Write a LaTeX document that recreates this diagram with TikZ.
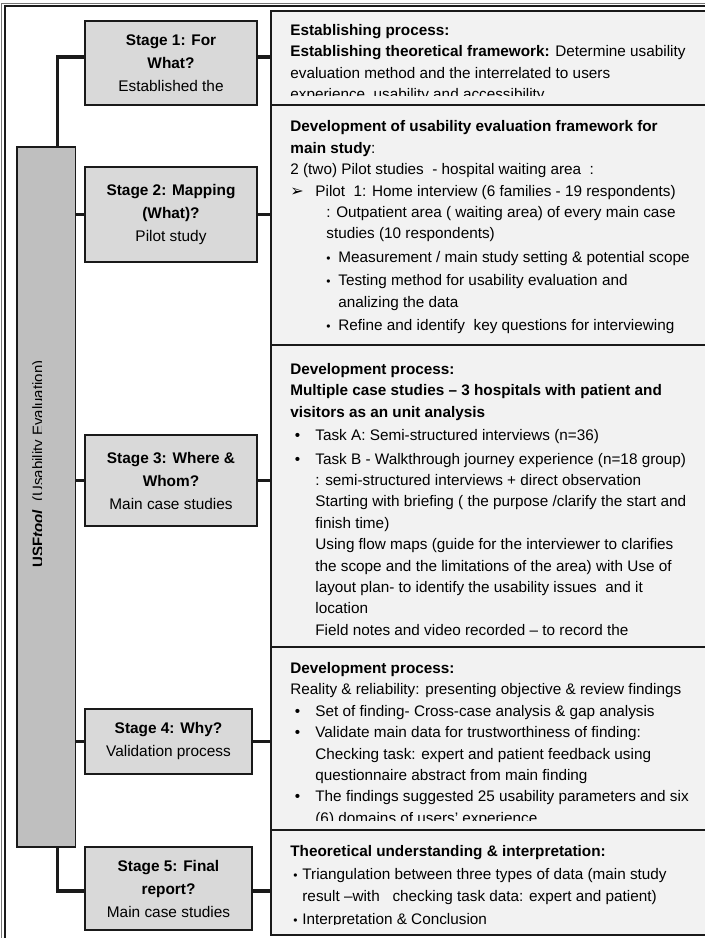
\documentclass[tikz,border=0pt]{standalone}
\usepackage{fontspec}
\setmainfont{Liberation Sans}
\newfontfamily\dingfont{DejaVu Sans}
\usepackage{xcolor}
\usepackage{tikz}
\usetikzlibrary{calc}
\definecolor{mStageGray}{HTML}{D9D9D9}
\definecolor{mBarGray}{HTML}{BFBFBF}
\definecolor{mInfoGray}{HTML}{F2F2F2}
\definecolor{mLine}{HTML}{1A1A1A}
\newcommand{\bul}[1]{\makebox[#1][l]{•}}
\newcommand{\sbul}[1]{\makebox[#1][l]{\fontsize{6}{6}\selectfont•}}

\begin{document}
\begin{tikzpicture}[x=0.5pt, y=-0.5pt, font=\fontsize{7.65}{10.7}\selectfont,
  stagebox/.style={draw=mLine, line width=0.8pt, fill=mStageGray, inner sep=0pt, align=center, font=\fontsize{7.7}{11.5}\selectfont},
  infobox/.style={draw=mLine, line width=1pt, fill=mInfoGray, anchor=north west, minimum width=240pt, inner sep=0pt},
  infotext/.style={anchor=north west, inner sep=0pt, align=left, execute at begin node=\strut},
  link/.style={mLine, line width=1.75pt}]
\clip (0,0) rectangle (705,938);
\draw[mLine!60, line width=0.5pt] (1.5,3) rectangle (800,1000);
\draw[mLine, line width=0.6pt] (5,6) rectangle (800,1000);
% left bar and stages
\node[draw=mLine, line width=0.8pt, fill=mBarGray, minimum width=29.25pt, minimum height=350pt, inner sep=0pt] (bar) at (46.25,497) {};
\node[stagebox, minimum width=86pt, minimum height=42pt] (s1) at (171,63) {\textbf{Stage 1: For}\\ \textbf{What?}\\ Established the};
\node[stagebox, minimum width=86pt, minimum height=47.5pt] (s2) at (171,214.5) {\textbf{Stage 2: Mapping}\\ \textbf{(What)?}\\ Pilot study};
\node[stagebox, minimum width=86pt, minimum height=45.5pt] (s3) at (171,480.5) {\textbf{Stage 3: Where \&}\\ \textbf{Whom?}\\ Main case studies};
\node[stagebox, minimum width=83.5pt, minimum height=32.5pt] (s4) at (168.5,741.5) {\textbf{Stage 4: Why?}\\ Validation process};
\node[stagebox, minimum width=83.5pt, minimum height=41.5pt] (s5) at (168.5,888.5) {\textbf{Stage 5: Final}\\ \textbf{report?}\\ Main case studies};
\begin{scope}
\clip (bar.north west) rectangle (41.8,847);
\node[rotate=90, anchor=base, inner sep=0pt, font=\fontsize{7.5}{9}\selectfont] (bartext) at (43,464) {\textbf{USF\textit{tool}}\ \ (Usability Evaluation)};
\end{scope}
% right boxes
\node[infobox, minimum height=47pt] (r1) at (270,10) {};
\node[infobox, minimum height=120pt] (r2) at (270,104) {};
\node[infobox, minimum height=151pt] (r3) at (270,344) {};
\node[infobox, minimum height=91.5pt] (r4) at (270,646) {};
\node[infobox, minimum height=52.5pt] (r5) at (270,829) {};
\begin{scope}
\clip (r1.north west) rectangle ($(r1.south east)+(0,-11)$);
\node[infotext] (t1) at (290,24) {\textbf{Establishing process:}\\
\textbf{Establishing theoretical framework:} Determine usability\\
evaluation method and the interrelated to users\\
experience, usability and accessibility};
\end{scope}
\begin{scope}
\clip (r2.north west) rectangle ($(r2.south east)+(0,-11)$);
\node[infotext] (t2) at (290,120.5) {\textbf{Development of usability evaluation framework for}\\
\textbf{main study}:\\
2 (two) Pilot studies\ \ - hospital waiting area\ \ :\\
\makebox[12.5pt][l]{\dingfont\fontsize{8}{8}\selectfont ➢}Pilot\ \ 1: Home interview (6 families - 19 respondents)\\
\hspace*{18pt}: Outpatient area ( waiting area) of every main case\\
\hspace*{18pt}studies (10 respondents)\\[1pt]
\hspace*{18pt}\sbul{6pt}Measurement / main study setting \& potential scope\\[1pt]
\hspace*{18pt}\sbul{6pt}Testing method for usability evaluation and\\
\hspace*{24pt}analizing the data\\[1pt]
\hspace*{18pt}\sbul{6pt}Refine and identify\ \ key questions for interviewing};
\end{scope}
\begin{scope}
\clip (r3.north west) rectangle ($(r3.south east)+(0,-5)$);
\node[infotext] (t3) at (290,363) {\textbf{Development process:}\\
\textbf{Multiple case studies -- 3 hospitals with patient and}\\
\textbf{visitors as an unit analysis}\\[1pt]
\hspace*{2.25pt}\bul{10.25pt}Task A: Semi-structured interviews (n=36)\\[1pt]
\hspace*{2.25pt}\bul{10.25pt}Task B - Walkthrough journey experience (n=18 group)\\
\hspace*{12.5pt}: semi-structured interviews + direct observation\\
\hspace*{12.5pt}Starting with briefing ( the purpose /clarify the start and\\
\hspace*{12.5pt}finish time)\\
\hspace*{12.5pt}Using flow maps (guide for the interviewer to clarifies\\
\hspace*{12.5pt}the scope and the limitations of the area) with Use of\\
\hspace*{12.5pt}layout plan- to identify the usability issues\ \ and it\\
\hspace*{12.5pt}location\\
\hspace*{12.5pt}Field notes and video recorded -- to record the};
\end{scope}
\begin{scope}
\clip (r4.north west) rectangle ($(r4.south east)+(0,-11)$);
\node[infotext] (t4) at (290,662) {\textbf{Development process:}\\
Reality \& reliability: presenting objective \& review findings\\
\hspace*{2.25pt}\bul{10.25pt}Set of finding- Cross-case analysis \& gap analysis\\
\hspace*{2.25pt}\bul{10.25pt}Validate main data for trustworthiness of finding:\\
\hspace*{12.5pt}Checking task: expert and patient feedback using\\
\hspace*{12.5pt}questionnaire abstract from main finding\\
\hspace*{2.25pt}\bul{10.25pt}The findings suggested 25 usability parameters and six\\
\hspace*{12.5pt}(6) domains of users’ experience};
\end{scope}
\begin{scope}
\clip (r5.north west) rectangle ($(r5.south east)+(0,-12)$);
\node[infotext] (t5) at (290,845.5) {\textbf{Theoretical understanding \& interpretation:}\\[0.5pt]
\hspace*{1.5pt}\sbul{4.5pt}Triangulation between three types of data (main study\\[0.5pt]
\hspace*{6pt}result --with\ \ \ checking task data: expert and patient)\\[0.5pt]
\hspace*{1.5pt}\sbul{4.5pt}Interpretation \& Conclusion};
\end{scope}
% connectors
\draw[link] ([xshift=5.5pt]bar.north) |- ([yshift=3pt]s1.west); \draw[link] ([yshift=3pt]s1.east) -- ([yshift=3pt]s1.east -| r1.west);
\draw[link] (s2.west -| bar.east) -- (s2.west); \draw[link] (s2.east) -- (s2.east -| r2.west);
\draw[link] (s3.west -| bar.east) -- (s3.west); \draw[link] (s3.east) -- (s3.east -| r3.west);
\draw[link] (s4.west -| bar.east) -- (s4.west); \draw[link] (s4.east) -- (s4.east -| r4.west);
\draw[link] ([xshift=5.5pt]bar.south) |- ([yshift=-1.25pt]s5.west); \draw[link] ([yshift=-1.25pt]s5.east) -- ([yshift=-1.25pt]s5.east -| r5.west);
\end{tikzpicture}
\end{document}
